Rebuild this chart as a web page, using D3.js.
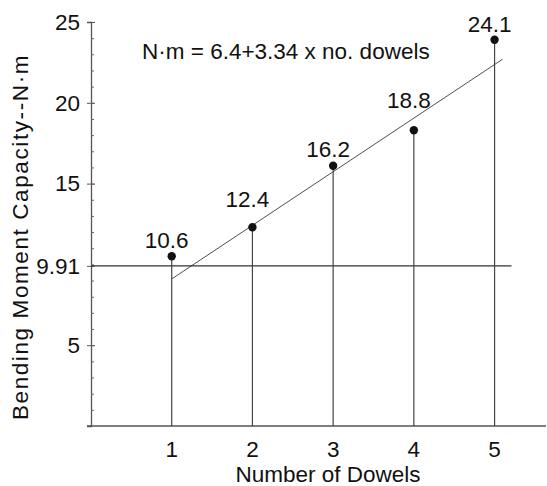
<!DOCTYPE html>
<html>
<head>
<meta charset="utf-8">
<script src="https://cdn.jsdelivr.net/npm/d3@7"></script>
<style>
  body { margin: 0; background: #fff; }
  text { font-family: "Liberation Sans", Arial, sans-serif; fill: #111; }
</style>
</head>
<body>
<div id="chart"></div>
<script>
// data
var dowels = [1, 2, 3, 4, 5];
var capacity = [10.5, 12.3, 16.1, 18.3, 23.9];        // where the dots sit
var valueLabels = ["10.6", "12.4", "16.2", "18.8", "24.1"];
var fitX = [1, 5.1];                                   // drawn regression segment
var fitY = [9.1, 22.7];
var refValue = 9.91;
var refEndX = 5.21;
var yTicks = [5, 9.91, 15, 20, 25];
var yTickLabels = ["5", "9.91", "15", "20", "25"];
var yMinor = d3.range(1, 25);
var equation = "N\u00b7m = 6.4+3.34 x no. dowels";

var width = 547, height = 486;
var fs = 22.5;

var x = d3.scaleLinear().domain([0, 5.6]).range([91, 543]);
var y = d3.scaleLinear().domain([0, 25]).range([426, 22]);

var svg = d3.select("#chart").append("svg")
    .attr("width", width)
    .attr("height", height);

// x axis: plain line with labels only
svg.append("line")
    .attr("x1", 87).attr("x2", 546)
    .attr("y1", y(0)).attr("y2", y(0))
    .attr("stroke", "#555").attr("stroke-width", 1.3);

svg.selectAll(".xlab").data(dowels).enter().append("text")
    .attr("x", function(d){ return x(d); })
    .attr("y", 457)
    .attr("text-anchor", "middle")
    .style("font-size", fs + "px")
    .text(function(d){ return d; });

// y axis, major ticks crossing the line, minor ticks inside
var yAxis = svg.append("g")
    .attr("transform", "translate(" + x(0) + ",0)")
    .call(d3.axisLeft(y).tickValues(yTicks).tickSize(4).tickPadding(7)
        .tickFormat(function(d, i){ return yTickLabels[i]; }));
yAxis.select(".domain").attr("stroke", "#555").attr("stroke-width", 1.3);
yAxis.selectAll(".tick line").attr("stroke", "#555");
yAxis.selectAll("text")
    .style("font-size", fs + "px")
    .style("font-family", "Liberation Sans, Arial, sans-serif")
    .attr("fill", "#111");

var yIn = svg.append("g")
    .attr("transform", "translate(" + x(0) + ",0)")
    .call(d3.axisRight(y).tickValues(yTicks).tickSize(4).tickFormat(""));
yIn.select(".domain").remove();
yIn.selectAll(".tick line").attr("stroke", "#555");

var yMin = svg.append("g")
    .attr("transform", "translate(" + x(0) + ",0)")
    .call(d3.axisRight(y).tickValues(yMinor).tickSize(3).tickFormat(""));
yMin.select(".domain").remove();
yMin.selectAll(".tick line").attr("stroke", "#666");

// reference line at 9.91
svg.append("line")
    .attr("x1", x(0)).attr("x2", x(refEndX))
    .attr("y1", y(refValue)).attr("y2", y(refValue))
    .attr("stroke", "#333").attr("stroke-width", 1.2);

// regression segment
svg.append("line")
    .attr("x1", x(fitX[0])).attr("y1", y(fitY[0]))
    .attr("x2", x(fitX[1])).attr("y2", y(fitY[1]))
    .attr("stroke", "#222").attr("stroke-width", 0.8);

// stems
svg.selectAll(".stem").data(dowels).enter().append("line")
    .attr("x1", function(d){ return x(d); })
    .attr("x2", function(d){ return x(d); })
    .attr("y1", function(d, i){ return y(capacity[i]); })
    .attr("y2", y(0))
    .attr("stroke", "#444").attr("stroke-width", 1.2);

// dots
svg.selectAll(".dot").data(dowels).enter().append("circle")
    .attr("cx", function(d){ return x(d); })
    .attr("cy", function(d, i){ return y(capacity[i]); })
    .attr("r", 4.2)
    .attr("fill", "#111");

// value labels (offsets tuned by eye)
var labelDy = [-8, -20, -9, -22, -8];
svg.selectAll(".vlab").data(dowels).enter().append("text")
    .attr("x", function(d){ return x(d) - 5; })
    .attr("y", function(d, i){ return y(capacity[i]) + labelDy[i]; })
    .attr("text-anchor", "middle")
    .style("font-size", fs + "px")
    .text(function(d, i){ return valueLabels[i]; });

// equation
svg.append("text")
    .attr("x", 142).attr("y", 59)
    .style("font-size", fs + "px")
    .text(equation);

// axis titles
svg.append("text")
    .attr("x", 328).attr("y", 482)
    .attr("text-anchor", "middle")
    .style("font-size", fs + "px")
    .text("Number of Dowels");

svg.append("text")
    .attr("transform", "translate(28,237) rotate(-90)")
    .attr("text-anchor", "middle")
    .style("font-size", fs + "px")
    .style("letter-spacing", "1.6px")
    .text("Bending Moment Capacity--N\u00b7m");
</script>
</body>
</html>
